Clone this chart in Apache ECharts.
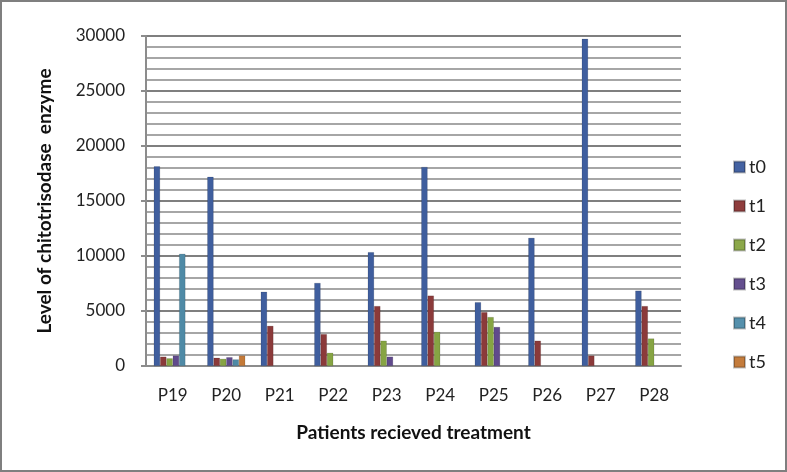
<!DOCTYPE html>
<html>
<head>
<meta charset="utf-8">
<script src="https://cdn.jsdelivr.net/npm/echarts@6/dist/echarts.min.js"></script>
<style>
html,body{margin:0;padding:0;background:#fff;}
#frame{position:absolute;left:0;top:0;width:783px;height:468px;border:2px solid #7f7f7f;background:#fff;}
#chart{position:absolute;left:-2px;top:-2px;width:787px;height:472px;}
</style>
</head>
<body>
<div id="frame"><div id="chart"></div></div>
<script>
const categories = ['P19','P20','P21','P22','P23','P24','P25','P26','P27','P28'];
const seriesNames = ['t0','t1','t2','t3','t4','t5'];
const t0 = [18150, 17200, 6750, 7550, 10350, 18100, 5800, 11650, 29750, 6850];
const t1 = [850, 750, 3650, 2900, 5450, 6400, 4900, 2300, 950, 5450];
const t2 = [700, 650, null, 1200, 2300, 3100, 4450, null, null, 2500];
const t3 = [950, 800, null, null, 850, null, 3550, null, null, null];
const t4 = [10200, 600, null, null, null, null, null, null, null, null];
const t5 = [null, 950, null, null, null, null, null, null, null, null];
const yTicks = [0, 5000, 10000, 15000, 20000, 25000, 30000];
const colors = ['#3f5e9e', '#8b3a3a', '#86a443', '#604a8c', '#4f8aa6', '#c47a38'];
const legendColors = ['#4462a2', '#8e3c3c', '#8ca84a', '#644f8e', '#5590ac', '#c47c3c'];

const seriesData = [t0, t1, t2, t3, t4, t5];
const font = 'Lato, "Open Sans", sans-serif';

const chart = echarts.init(document.getElementById('chart'), null, {renderer: 'canvas'});
chart.setOption({
  backgroundColor: 'transparent',
  animation: false,
  textStyle: {fontFamily: font},
  grid: {left: 146, right: 106, top: 36, bottom: 106},
  legend: {
    orient: 'vertical',
    left: 728,
    top: 153,
    itemGap: 21,
    itemWidth: 11,
    itemHeight: 11,
    icon: 'rect',
    textStyle: {fontSize: 18, color: '#222', fontFamily: font, padding: [0,0,0,-1]},
    data: seriesNames.map((n, i) => ({name: n, itemStyle: {color: legendColors[i]}}))
  },
  xAxis: {
    type: 'category',
    data: categories,
    name: 'Patients recieved treatment',
    nameLocation: 'middle',
    nameGap: 57,
    nameTextStyle: {fontSize: 19, fontWeight: 'bold', color: '#111', fontFamily: font},
    axisLine: {show: true, lineStyle: {color: '#8c8c8c', width: 2}},
    axisTick: {show: false},
    axisLabel: {fontSize: 17, color: '#222', margin: 21, fontFamily: font},
    splitLine: {show: false}
  },
  yAxis: {
    type: 'value',
    min: yTicks[0],
    max: yTicks[yTicks.length - 1],
    interval: 5000,
    name: 'Level of chitotrisodase  enzyme',
    nameLocation: 'middle',
    nameGap: 92,
    nameTextStyle: {fontSize: 19, fontWeight: 'bold', color: '#111', fontFamily: font},
    axisLine: {show: true, lineStyle: {color: '#8c8c8c', width: 2}},
    axisTick: {show: true, length: 5, inside: false, lineStyle: {color: '#8c8c8c', width: 2}},
    axisLabel: {fontSize: 17, color: '#222', margin: 21, fontFamily: font, formatter: v => String(v)},
    splitLine: {show: true, lineStyle: {color: '#7f7f7f', width: 2}},
    minorTick: {show: false, splitNumber: 5},
    minorSplitLine: {show: true, lineStyle: {color: '#a6a6a6', width: 2}}
  },
  series: seriesData.map((d, i) => ({
    name: seriesNames[i],
    type: 'bar',
    data: d,
    barGap: '0%',
    barCategoryGap: '29%',
    itemStyle: {color: colors[i], borderColor: 'rgba(0,0,0,0.25)', borderWidth: 0.5}
  }))
});
</script>
</body>
</html>
